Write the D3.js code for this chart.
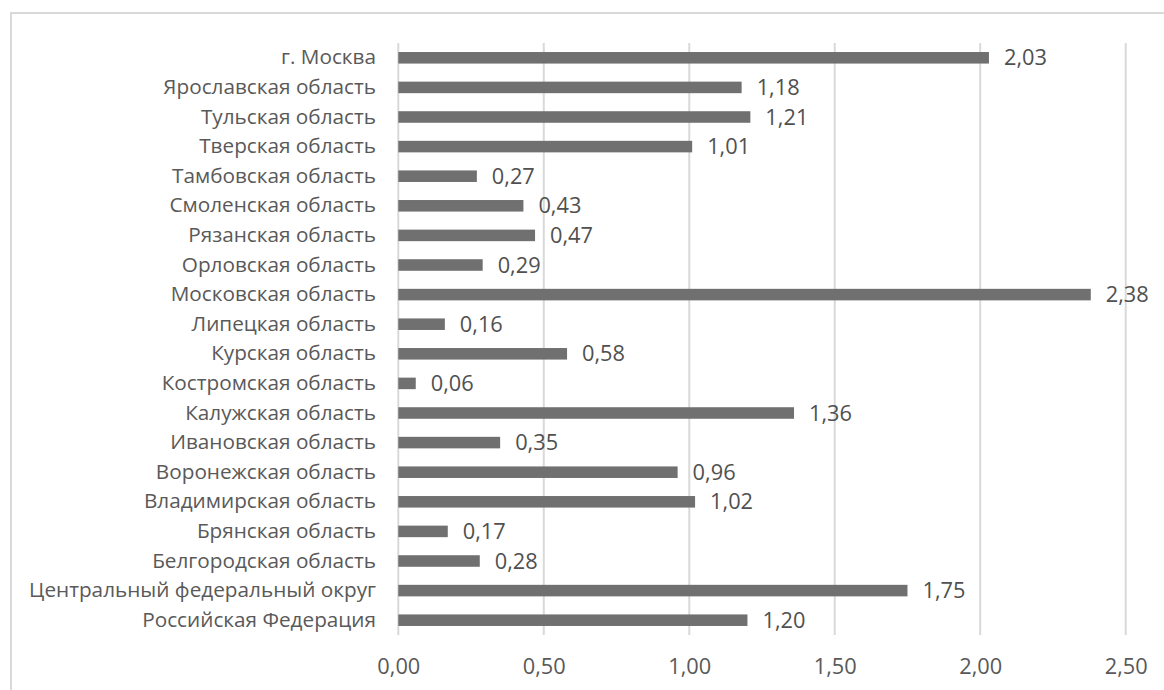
<!DOCTYPE html>
<html><head><meta charset="utf-8">
<script src="https://cdn.jsdelivr.net/npm/d3@7"></script>
<style>body{margin:0;background:#fff}svg{display:block}</style>
</head><body><svg id="c" width="1164" height="690"></svg>
<script>
const categories = ["Российская Федерация","Центральный федеральный округ","Белгородская область","Брянская область","Владимирская область","Воронежская область","Ивановская область","Калужская область","Костромская область","Курская область","Липецкая область","Московская область","Орловская область","Рязанская область","Смоленская область","Тамбовская область","Тверская область","Тульская область","Ярославская область","г. Москва"];
const values = [1.20,1.75,0.28,0.17,1.02,0.96,0.35,1.36,0.06,0.58,0.16,2.38,0.29,0.47,0.43,0.27,1.01,1.21,1.18,2.03];
const ticks = [0,0.5,1.0,1.5,2.0,2.5];

const svg = d3.select("#c");
const font = "'Open Sans', sans-serif";
svg.append("rect").attr("x",11).attr("y",13).attr("width",1200).attr("height",720)
  .attr("fill","none").attr("stroke","#d9d9d9").attr("stroke-width",2);

const x = d3.scaleLinear().domain([0,2.5]).range([398.3,1125.7]);
const y = d3.scaleBand().domain(categories.slice().reverse()).range([43,635]).paddingInner(0.61).paddingOuter(0.305);
const fmt = v => d3.format(".2f")(v).replace(".",",");

// measure to fit the reference text widths
const probe = svg.append("text").attr("font-family",font).attr("font-size",20).text("Центральный федеральный округ");
const labelSize = 20 * 347 / probe.node().getComputedTextLength();
probe.text("1,20");
const valSize = 20 * 43 / probe.node().getComputedTextLength();
probe.remove();

svg.append("g").selectAll("line").data(ticks).join("line")
  .attr("x1",d=>x(d)).attr("x2",d=>x(d)).attr("y1",43).attr("y2",635)
  .attr("stroke","#d9d9d9").attr("stroke-width",2);

const data = categories.map((c,i)=>({c, v: values[i]}));
svg.append("g").selectAll("rect").data(data).join("rect")
  .attr("x",x(0)).attr("y",d=>y(d.c)).attr("width",d=>x(d.v)-x(0)).attr("height",y.bandwidth())
  .attr("fill","#707070");

svg.append("g").selectAll("text").data(data).join("text")
  .attr("x",d=>x(d.v)+15).attr("y",d=>y(d.c)+y.bandwidth()/2).attr("dy","0.35em")
  .attr("font-family",font).attr("font-size",valSize).attr("fill","#505050").text(d=>fmt(d.v));

const ya = svg.append("g").attr("transform","translate(398,0)").call(d3.axisLeft(y).tickSize(0).tickPadding(22));
ya.select(".domain").remove();
ya.selectAll("text").attr("font-family",font).attr("font-size",labelSize).attr("fill","#595959");

const xa = svg.append("g").attr("transform","translate(0,635)").call(d3.axisBottom(x).tickValues(ticks).tickSize(0).tickPadding(24).tickFormat(fmt));
xa.select(".domain").remove();
xa.selectAll("text").attr("font-family",font).attr("font-size",valSize).attr("fill","#595959");
</script></body></html>
